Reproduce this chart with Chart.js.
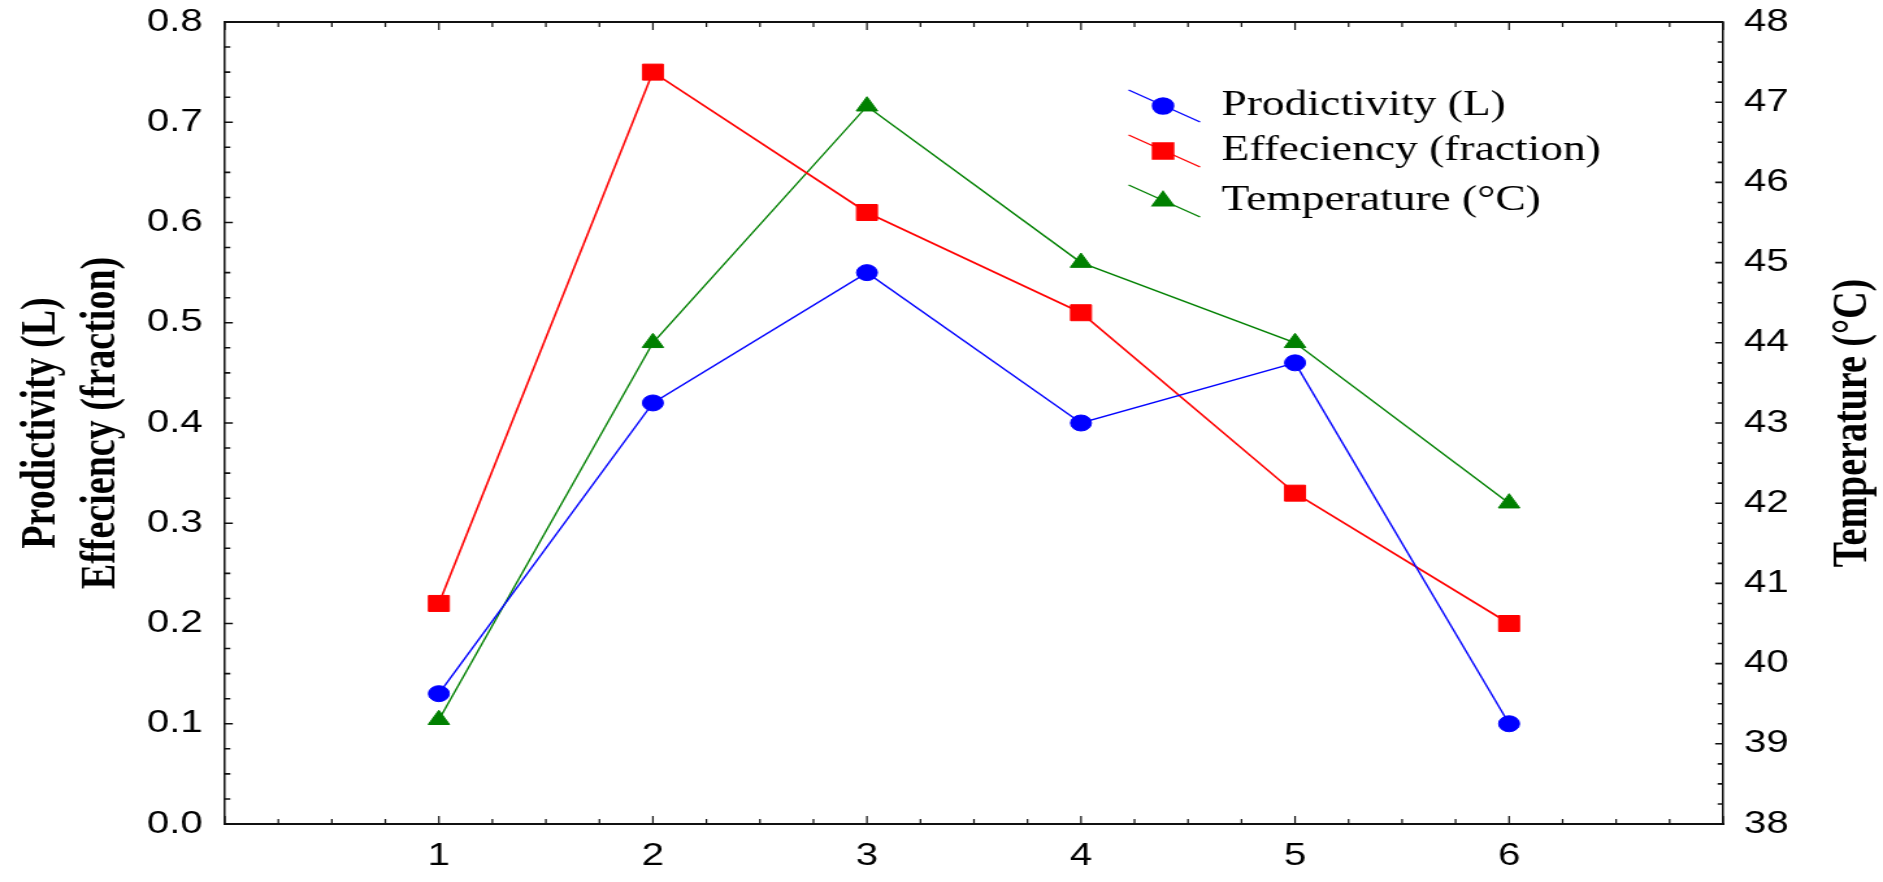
<!DOCTYPE html>
<html><head><meta charset="utf-8">
<script src="https://cdn.jsdelivr.net/npm/chart.js@4.4.0/dist/chart.umd.min.js"></script>
<style>
html,body{margin:0;padding:0;background:#fff;overflow:hidden;}
#wrap{width:1449px;height:882px;transform:scaleX(1.2995);transform-origin:0 0;}
canvas{display:block;}
</style></head><body>
<div id="wrap"><canvas id="c" width="1449" height="882"></canvas></div>
<script>
// ---- data ----
const runs = [1, 2, 3, 4, 5, 6];
const productivity = [0.13, 0.42, 0.55, 0.40, 0.46, 0.10];
const efficiency = [0.22, 0.75, 0.61, 0.51, 0.33, 0.20];
const temperature = [39.3, 44.0, 46.95, 45.0, 44.0, 42.0];
const seriesLabels = ['Prodictivity (L)', 'Effeciency (fraction)', 'Temperature (\u00B0C)'];
const leftTitle = ['Prodictivity (L)', 'Effeciency (fraction)'];
const rightTitle = 'Temperature (\u00B0C)';
const xTickLabels = ['1', '2', '3', '4', '5', '6'];

const SX = 1.2995; // horizontal stretch of the reference picture

function pts(vals) { return runs.map((r, i) => ({x: r, y: vals[i]})); }

const inTicks = {
  id: 'inTicks',
  beforeDatasetsDraw(chart) {
    const {ctx, chartArea: {left, right, top, bottom}, scales: {x, y, y1}} = chart;
    ctx.save();
    ctx.strokeStyle = '#111';
    ctx.lineWidth = 2;
    ctx.beginPath(); ctx.moveTo(left, top); ctx.lineTo(right, top); ctx.stroke();
    ctx.lineWidth = 1.6 / SX;
    ctx.beginPath();
    for (let i = 0; i <= 28; i++) {
      const px = x.getPixelForValue(i * 0.25);
      const len = (i % 4 === 0) ? 8 : 5;
      ctx.moveTo(px, bottom); ctx.lineTo(px, bottom - len);
      ctx.moveTo(px, top); ctx.lineTo(px, top + len);
    }
    ctx.stroke();
    ctx.lineWidth = 1.6;
    ctx.beginPath();
    for (let i = 0; i <= 32; i++) {
      const py = y.getPixelForValue(i * 0.025);
      const len = ((i % 4 === 0) ? 8 : 5.5) / SX;
      ctx.moveTo(left, py); ctx.lineTo(left + len, py);
    }
    for (let i = 0; i <= 40; i++) {
      const py = y1.getPixelForValue(38 + i * 0.25);
      const len = ((i % 4 === 0) ? 8 : 5.5) / SX;
      ctx.moveTo(right, py); ctx.lineTo(right - len, py);
    }
    ctx.stroke();
    ctx.restore();
  }
};

const legendAndTitle = {
  id: 'legendAndTitle',
  afterDraw(chart) {
    const ctx = chart.ctx;
    const rowsY = [106, 151, 201];
    ctx.save();
    chart.data.datasets.forEach((ds, i) => {
      const yy = rowsY[i];
      ctx.strokeStyle = ds.borderColor;
      ctx.lineWidth = 1.4;
      ctx.beginPath(); ctx.moveTo(868.5, yy - 16); ctx.lineTo(923.5, yy + 16); ctx.stroke();
      ctx.fillStyle = ds.backgroundColor;
      ctx.strokeStyle = ds.borderColor;
      Chart.helpers.drawPoint(ctx, {pointStyle: ds.pointStyle, radius: ds.pointRadius, rotation: 0, borderWidth: 1}, 895, yy);
      ctx.fillStyle = '#000';
      ctx.font = '35px "Liberation Serif", "Times New Roman", serif';
      ctx.textAlign = 'left';
      ctx.textBaseline = 'middle';
      ctx.fillText(ds.label, 940, yy);
    });
    const {top, bottom} = chart.chartArea;
    ctx.translate(1426, (top + bottom) / 2);
    ctx.rotate(-Math.PI / 2);
    ctx.font = 'bold 38px "Liberation Serif", "Times New Roman", serif';
    ctx.textAlign = 'center';
    ctx.textBaseline = 'middle';
    ctx.fillStyle = '#000';
    ctx.fillText(rightTitle, 0, 0);
    ctx.restore();
  }
};

const tickFont = {family: '"Liberation Sans", Arial, sans-serif', size: 31};

new Chart(document.getElementById('c'), {
  type: 'line',
  data: {
    datasets: [
      {label: seriesLabels[0], data: pts(productivity), yAxisID: 'y', borderColor: '#0000ff', backgroundColor: '#0000ff',
       borderWidth: 1.4, pointStyle: 'circle', pointRadius: 8, pointBorderWidth: 1, tension: 0},
      {label: seriesLabels[1], data: pts(efficiency), yAxisID: 'y', borderColor: '#ff0000', backgroundColor: '#ff0000',
       borderWidth: 1.6, pointStyle: 'rect', pointRadius: 11.3, pointBorderWidth: 1, tension: 0},
      {label: seriesLabels[2], data: pts(temperature), yAxisID: 'y1', borderColor: '#008000', backgroundColor: '#008000',
       borderWidth: 1.4, pointStyle: 'triangle', pointRadius: 9.5, pointBorderWidth: 1, tension: 0}
    ]
  },
  options: {
    responsive: false,
    animation: false,
    devicePixelRatio: 1,
    layout: {padding: {top: 22, left: 0, right: 0, bottom: 0}},
    plugins: {legend: {display: false}, tooltip: {enabled: false}},
    scales: {
      x: {
        type: 'linear', position: 'bottom', min: 0, max: 7,
        grid: {display: false, drawTicks: false},
        border: {display: true, color: '#111', width: 2},
        ticks: {stepSize: 1, autoSkip: false, maxRotation: 0, padding: 14, color: '#000', font: tickFont,
                callback: v => (v >= 1 && v <= 6) ? xTickLabels[v - 1] : ''},
        afterFit: s => { s.height = 58; s.paddingLeft = 0; s.paddingRight = 0; }
      },
      y: {
        position: 'left', min: 0, max: 0.8,
        grid: {display: false, drawTicks: false},
        border: {display: true, color: '#111', width: 2 / SX},
        ticks: {stepSize: 0.1, padding: 17, color: '#000', font: tickFont, callback: v => v.toFixed(1)},
        title: {display: true, text: leftTitle, color: '#000', padding: {top: 9, bottom: 0},
                font: {family: '"Liberation Serif", "Times New Roman", serif', size: 38, weight: 'bold', lineHeight: 1.22}},
        afterFit: s => { s.width = 173; s.paddingTop = 0; s.paddingBottom = 0; }
      },
      y1: {
        position: 'right', min: 38, max: 48,
        grid: {display: false, drawTicks: false, drawOnChartArea: false},
        border: {display: true, color: '#111', width: 2 / SX},
        ticks: {stepSize: 1, padding: 16, color: '#000', font: tickFont},
        afterFit: s => { s.width = 123; s.paddingTop = 0; s.paddingBottom = 0; }
      }
    }
  },
  plugins: [inTicks, legendAndTitle]
});
</script>
</body></html>
